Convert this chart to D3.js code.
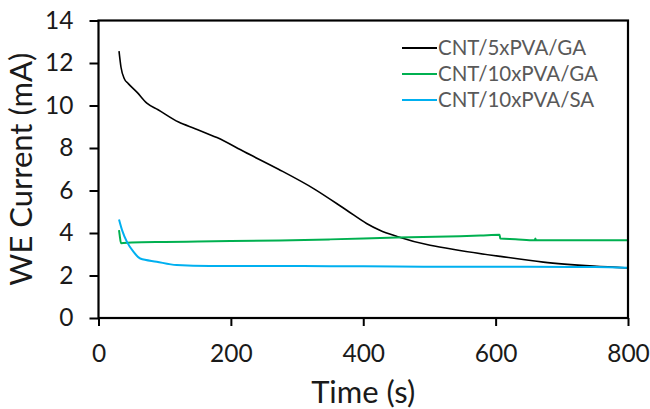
<!DOCTYPE html>
<html>
<head>
<meta charset="utf-8">
<script src="https://cdn.jsdelivr.net/npm/d3@7"></script>
<style>
  body { margin: 0; background: #fff; }
  svg text { font-family: Lato, "Open Sans", sans-serif; }
</style>
</head>
<body>
<div id="chart"></div>
<script>
// series
const seriesNames = ['CNT/5xPVA/GA', 'CNT/10xPVA/GA', 'CNT/10xPVA/SA'];
const seriesColors = ['#000000', '#00b050', '#00b0f0'];

const blackTime = [31, 34, 39, 45, 58, 73, 90, 121, 146, 179, 221, 272, 325, 375, 405, 425, 451, 501, 546, 607, 672, 748, 800];
const blackCurrent = [12.56, 11.8, 11.26, 11.03, 10.63, 10.11, 9.80, 9.22, 8.91, 8.49, 7.81, 7.0, 6.09, 5.07, 4.45, 4.13, 3.84, 3.42, 3.18, 2.9, 2.63, 2.44, 2.35];

const greenTime = [31, 32, 34, 50, 100, 150, 200, 274, 350, 451, 546, 577, 606, 607, 630, 659, 660, 661, 700, 800];
const greenCurrent = [4.13, 3.9, 3.52, 3.55, 3.58, 3.6, 3.62, 3.65, 3.70, 3.79, 3.85, 3.88, 3.92, 3.74, 3.71, 3.66, 3.74, 3.66, 3.66, 3.66];

const blueTime = [31, 36, 43, 53, 63, 88, 118, 168, 250, 350, 450, 550, 650, 750, 800];
const blueCurrent = [4.64, 4.1, 3.58, 3.11, 2.80, 2.65, 2.49, 2.45, 2.45, 2.44, 2.42, 2.41, 2.41, 2.40, 2.36];

const xTicks = [0, 200, 400, 600, 800];
const yTicks = [0, 2, 4, 6, 8, 10, 12, 14];

const series = [
  { name: seriesNames[0], color: seriesColors[0], width: 1.6, values: blackTime.map((t, i) => [t, blackCurrent[i]]) },
  { name: seriesNames[1], color: seriesColors[1], width: 2, values: greenTime.map((t, i) => [t, greenCurrent[i]]) },
  { name: seriesNames[2], color: seriesColors[2], width: 2, values: blueTime.map((t, i) => [t, blueCurrent[i]]) }
];

const W = 650, H = 409;
const margin = { top: 20.5, right: 22, bottom: 91, left: 98.5 };
const width = W - margin.left - margin.right;
const height = H - margin.top - margin.bottom;

const svg = d3.select('#chart').append('svg')
  .attr('width', W)
  .attr('height', H);

const g = svg.append('g')
  .attr('transform', `translate(${margin.left},${margin.top})`);

const x = d3.scaleLinear().domain([0, 800]).range([0, width]);
const y = d3.scaleLinear().domain([0, 14]).range([height, 0]);

// axes
const xAxis = g.append('g')
  .attr('transform', `translate(0,${height})`)
  .call(d3.axisBottom(x).tickValues(xTicks).tickSize(8).tickPadding(19));
const yAxis = g.append('g')
  .call(d3.axisLeft(y).tickValues(yTicks).tickSize(9).tickPadding(16));

[xAxis, yAxis].forEach(a => {
  a.select('.domain').remove();
  a.selectAll('.tick line').attr('stroke', '#000').attr('stroke-width', 2);
  a.selectAll('.tick text')
    .attr('fill', '#1a1a1a')
    .style('font-size', '24.5px');
});

// lines
const line = d3.line()
  .curve(d3.curveMonotoneX)
  .x(d => x(d[0]))
  .y(d => y(d[1]));

g.selectAll('.series')
  .data(series)
  .enter()
  .append('path')
  .attr('class', 'series')
  .attr('d', d => line(d.values))
  .attr('fill', 'none')
  .attr('stroke', d => d.color)
  .attr('stroke-width', d => d.width)
  .attr('stroke-linejoin', 'round');

// frame around the plot area
g.append('rect')
  .attr('x', 0)
  .attr('y', 0)
  .attr('width', width)
  .attr('height', height)
  .attr('fill', 'none')
  .attr('stroke', '#000')
  .attr('stroke-width', 2.2);

// axis titles
svg.append('text')
  .attr('x', margin.left + width / 2)
  .attr('y', 403)
  .attr('text-anchor', 'middle')
  .attr('fill', '#1a1a1a')
  .style('font-size', '31px')
  .text('Time (s)');

svg.append('text')
  .attr('transform', `translate(32,${margin.top + height / 2}) rotate(-90)`)
  .attr('text-anchor', 'middle')
  .attr('fill', '#1a1a1a')
  .style('font-size', '31px')
  .text('WE Current (mA)');

// legend
const legend = svg.append('g').attr('transform', 'translate(402,48)');
const rows = legend.selectAll('g')
  .data(series)
  .enter()
  .append('g')
  .attr('transform', (d, i) => `translate(0,${i * 26})`);
rows.append('line')
  .attr('x1', 0).attr('x2', 35)
  .attr('stroke', d => d.color)
  .attr('stroke-width', 2);
rows.append('text')
  .attr('x', 36)
  .attr('y', 7)
  .attr('fill', '#595959')
  .style('font-size', '20.5px')
  .text(d => d.name);
</script>
</body>
</html>
